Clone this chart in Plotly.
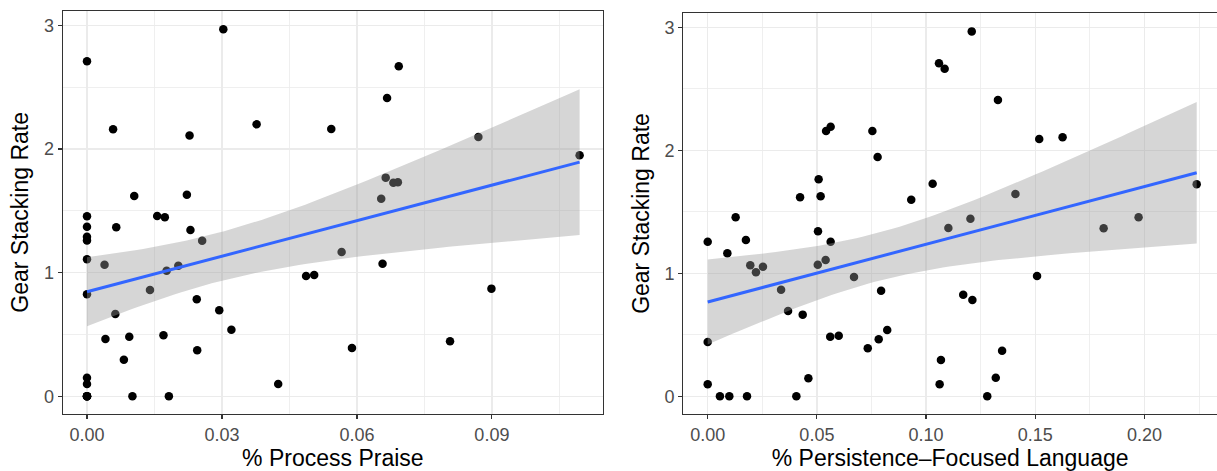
import numpy as np
import plotly.graph_objects as go

# ---- data: left panel (% Process Praise) ----
praise_x = [0, 0.0303, 0.0058, 0.0228, 0.0377, 0.0105, 0.0222, 0, 0.0156, 0.0173,
            0, 0.0065, 0.0230, 0, 0, 0, 0.0039, 0.0177, 0.0203, 0.0256,
            0.0140, 0, 0.0063, 0.0244, 0.0294, 0.0321, 0.0041, 0.0094, 0.0170, 0.0245,
            0.0082, 0, 0, 0, 0.0101, 0.0182, 0.0425, 0.0487, 0.0505, 0.0566,
            0.0657, 0.0899, 0.0589, 0.0807, 0.0693, 0.0667, 0.0543, 0.0870, 0.1095, 0.0664,
            0.0681, 0.0691, 0.0654, 0, 0, 0]
praise_y = [2.71, 2.97, 2.16, 2.11, 2.20, 1.62, 1.63, 1.456, 1.459, 1.448,
            1.372, 1.367, 1.345, 1.29, 1.26, 1.108, 1.065, 1.016, 1.057, 1.259,
            0.86, 0.825, 0.666, 0.785, 0.696, 0.539, 0.464, 0.482, 0.494, 0.372,
            0.296, 0.15, 0.10, 0.0, 0.0, 0.0, 0.10, 0.973, 0.981, 1.167,
            1.073, 0.871, 0.391, 0.445, 2.67, 2.413, 2.163, 2.098, 1.95, 1.769,
            1.728, 1.731, 1.599, 0.0, 0.0, 0.0]

# ---- data: right panel (% Persistence-Focused Language) ----
persist_x = [0.0542, 0.0563, 0.0754, 0.0778, 0.0508, 0.0423, 0.0517, 0.0932, 0.0128, 0.0505,
             0.0175, 0.0563, 0, 0.0090, 0.0195, 0.0221, 0.0253, 0.0504, 0.0540, 0.0670,
             0.0336, 0.0794, 0.0368, 0.0435, 0, 0.0561, 0.0600, 0.0733, 0.0783, 0.0822,
             0, 0.0461, 0.0056, 0.0099, 0.0180, 0.0406, 0.1209, 0.1059, 0.1085, 0.1329,
             0.1518, 0.1625, 0.1030, 0.1409, 0.1102, 0.1203, 0.1813, 0.1973, 0.2239, 0.1508,
             0.1170, 0.1212, 0.1348, 0.1068, 0.1062, 0.1319, 0.1280]
persist_y = [2.157, 2.192, 2.157, 1.946, 1.764, 1.618, 1.626, 1.598, 1.455, 1.341,
             1.271, 1.257, 1.257, 1.163, 1.065, 1.008, 1.054, 1.070, 1.108, 0.970,
             0.867, 0.859, 0.693, 0.664, 0.441, 0.485, 0.493, 0.390, 0.463, 0.539,
             0.098, 0.146, 0.0, 0.0, 0.0, 0.0, 2.967, 2.707, 2.663, 2.409,
             2.092, 2.106, 1.728, 1.645, 1.368, 1.444, 1.366, 1.455, 1.724, 0.978,
             0.826, 0.783, 0.371, 0.295, 0.098, 0.151, 0.0]

x_title_left = "% Process Praise"
x_title_right = "% Persistence\u2013Focused Language"
y_title = "Gear Stacking Rate"
left_xticks = [0.00, 0.03, 0.06, 0.09]
left_xtext = ["0.00", "0.03", "0.06", "0.09"]
right_xticks = [0.00, 0.05, 0.10, 0.15, 0.20]
right_xtext = ["0.00", "0.05", "0.10", "0.15", "0.20"]
yticks = [0, 1, 2, 3]
ytext = ["0", "1", "2", "3"]


def t_crit(df):
    z = 1.959964
    return z + (z**3 + z) / (4 * df) + (5 * z**5 + 16 * z**3 + 3 * z) / (96 * df**2)


def lm_fit(x, y, n_grid=80):
    x = np.asarray(x, float)
    y = np.asarray(y, float)
    n = len(x)
    xb = x.mean()
    sxx = ((x - xb) ** 2).sum()
    b1 = ((x - xb) * (y - y.mean())).sum() / sxx
    b0 = y.mean() - b1 * xb
    resid = y - (b0 + b1 * x)
    s = np.sqrt((resid ** 2).sum() / (n - 2))
    g = np.linspace(x.min(), x.max(), n_grid)
    fit = b0 + b1 * g
    se = s * np.sqrt(1 / n + (g - xb) ** 2 / sxx)
    t = t_crit(n - 2)
    return g, fit, fit - t * se, fit + t * se


FONT = "Liberation Sans, Arial, Helvetica, sans-serif"
fig = go.Figure()


def add_panel(x, y, xa, ya):
    fig.add_trace(go.Scatter(x=x, y=y, mode="markers", xaxis=xa, yaxis=ya,
                             marker=dict(color="black", size=8.5, line=dict(width=0)),
                             showlegend=False, hoverinfo="skip"))
    g, fit, lo, hi = lm_fit(x, y)
    fig.add_trace(go.Scatter(x=np.concatenate([g, g[::-1]]), y=np.concatenate([hi, lo[::-1]]),
                             fill="toself", fillcolor="rgba(153,153,153,0.4)",
                             line=dict(width=0), mode="lines", xaxis=xa, yaxis=ya,
                             showlegend=False, hoverinfo="skip"))
    fig.add_trace(go.Scatter(x=g, y=fit, mode="lines", xaxis=xa, yaxis=ya,
                             line=dict(color="#3366FF", width=3),
                             showlegend=False, hoverinfo="skip"))


add_panel(praise_x, praise_y, "x", "y")
add_panel(persist_x, persist_y, "x2", "y2")

W, H = 1217, 471
grid = "#EBEBEB"
frame = "#333333"

common_ax = dict(showgrid=True, gridcolor=grid, gridwidth=1.5, zeroline=False,
                 showline=True, linecolor=frame, linewidth=1.2,
                 ticks="outside", ticklen=4, tickwidth=1.2, tickcolor=frame,
                 tickfont=dict(family=FONT, size=18, color="#4D4D4D"),
                 automargin=False, fixedrange=True)

fig.update_layout(
    width=W, height=H,
    margin=dict(l=0, r=0, t=0, b=0),
    paper_bgcolor="white", plot_bgcolor="white",
    font=dict(family=FONT),
    xaxis=dict(**common_ax, domain=[62.7 / W, 603 / W], range=[-0.0054, 0.1147],
               tickvals=left_xticks, ticktext=left_xtext, mirror=True,
               minor=dict(tickvals=[0.015, 0.045, 0.075, 0.105], showgrid=True,
                          gridcolor=grid, gridwidth=0.8, ticks=""),
               title=dict(text=x_title_left, standoff=6,
                          font=dict(family=FONT, size=23, color="black")),
               anchor="y"),
    yaxis=dict(**common_ax, domain=[1 - 413.7 / H, 1 - 11 / H], range=[-0.1408, 3.117],
               tickvals=yticks, ticktext=ytext, mirror=True,
               minor=dict(tickvals=[0.5, 1.5, 2.5], showgrid=True,
                          gridcolor=grid, gridwidth=0.8, ticks=""),
               title=dict(text=y_title, standoff=8,
                          font=dict(family=FONT, size=23, color="black")),
               anchor="x"),
    xaxis2=dict(**common_ax, domain=[683.3 / W, 1.0], range=[-0.01117, 0.2332],
                tickvals=right_xticks, ticktext=right_xtext, mirror=True,
                minor=dict(tickvals=[0.025, 0.075, 0.125, 0.175, 0.225], showgrid=True,
                           gridcolor=grid, gridwidth=0.8, ticks=""),
                title=dict(text=x_title_right, standoff=6,
                           font=dict(family=FONT, size=23, color="black")),
                anchor="y2"),
    yaxis2=dict(**common_ax, domain=[1 - 413.7 / H, 1 - 13.3 / H], range=[-0.1415, 3.114],
                tickvals=yticks, ticktext=ytext, mirror=False,
                minor=dict(tickvals=[0.5, 1.5, 2.5], showgrid=True,
                           gridcolor=grid, gridwidth=0.8, ticks=""),
                title=dict(text=y_title, standoff=8,
                           font=dict(family=FONT, size=23, color="black")),
                anchor="x2"),
)

fig.write_html("out.html", config={"displayModeBar": False, "staticPlot": True})

# remove the browser's default page margin so the figure sits at the top-left corner
with open("out.html", "r", encoding="utf-8") as f:
    html = f.read()
html = html.replace("<head>", "<head><style>html,body{margin:0;padding:0;overflow:hidden;}</style>", 1)
with open("out.html", "w", encoding="utf-8") as f:
    f.write(html)
